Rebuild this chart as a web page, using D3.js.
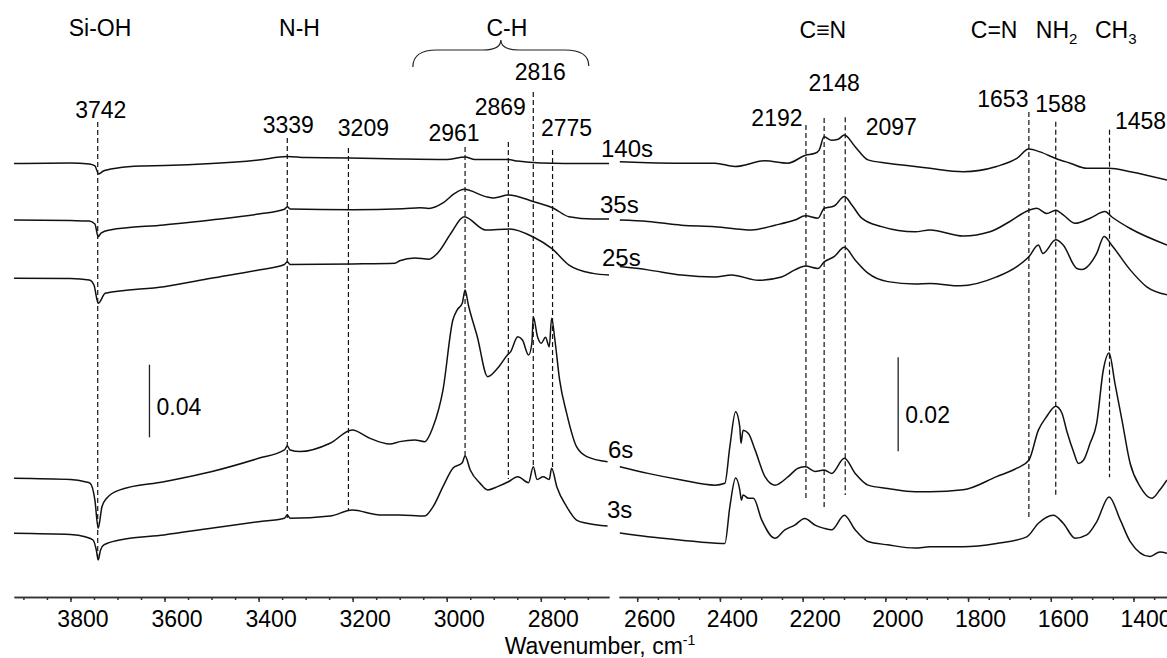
<!DOCTYPE html>
<meta charset="utf-8">
<html>
  <head>
    <style>
      body { margin: 0; background: #fff; }
      text { font-family: Arial, "Liberation Sans", sans-serif; fill: #000; }
      path.trace { fill: none; stroke: #111; stroke-width: 1.5px; stroke-linejoin: round; }
      line.peak { stroke: #111; stroke-width: 1.2px; stroke-dasharray: 5,3; }
      line.bar { stroke: #222; stroke-width: 1.3px; }
      .axis path, .axis line { stroke: #333; stroke-width: 1.5px; }
    </style>
    <script src="https://d3js.org/d3.v7.min.js"></script>
  </head>
  <body>
    <div id="chart"></div>
    <script type="text/javascript">
      // spectra, [wavenumber cm-1, absorbance incl. offset]
      var s140L = [[3920,0.2388],[3800,0.2391],[3760,0.2386],[3748,0.2375],[3740,0.2331],[3730,0.2347],[3700,0.2364],[3650,0.2375],[3600,0.2377],[3500,0.2388],[3400,0.2408],[3339,0.2427],[3300,0.2421],[3209,0.2419],[3100,0.2413],[3000,0.2410],[2961,0.2424],[2940,0.2410],[2869,0.2410],[2850,0.2402],[2800,0.2391],[2700,0.2388],[2655,0.2388]];
      var s35L = [[3920,0.2077],[3800,0.2074],[3760,0.2072],[3748,0.2055],[3741,0.1985],[3735,0.2005],[3716,0.2022],[3601,0.2050],[3501,0.2077],[3400,0.2110],[3345,0.2136],[3339,0.2150],[3333,0.2138],[3201,0.2134],[3093,0.2139],[3057,0.2145],[3038,0.2141],[3008,0.2171],[2983,0.2224],[2963,0.2246],[2917,0.2206],[2900,0.2199],[2869,0.2215],[2815,0.2178],[2773,0.2142],[2740,0.2095],[2689,0.2083],[2655,0.2083]];
      var s25L = [[3920,0.1756],[3800,0.1755],[3760,0.1747],[3750,0.1719],[3741,0.1618],[3726,0.1673],[3601,0.1710],[3501,0.1756],[3400,0.1802],[3345,0.1832],[3339,0.1847],[3333,0.1832],[3201,0.1835],[3110,0.1839],[3100,0.1853],[3068,0.1868],[3038,0.1861],[3017,0.1902],[2991,0.2004],[2963,0.2095],[2917,0.2022],[2866,0.2028],[2815,0.1982],[2777,0.1921],[2740,0.1829],[2689,0.1783],[2655,0.1774]];
      var s6L = [[3920,0.0654],[3800,0.0647],[3769,0.0635],[3758,0.0626],[3748,0.0534],[3741,0.0379],[3733,0.0497],[3723,0.0544],[3695,0.0590],[3601,0.0635],[3501,0.0690],[3400,0.0764],[3345,0.0810],[3339,0.0832],[3333,0.0810],[3312,0.0801],[3248,0.0847],[3201,0.0920],[3163,0.0874],[3121,0.0843],[3100,0.0856],[3068,0.0865],[3047,0.0856],[3029,0.0938],[3008,0.1140],[2987,0.1526],[2978,0.1581],[2967,0.1618],[2961,0.1691],[2954,0.1609],[2935,0.1434],[2913,0.1214],[2892,0.1260],[2871,0.1333],[2864,0.1352],[2849,0.1434],[2839,0.1416],[2826,0.1333],[2819,0.1398],[2816,0.1544],[2807,0.1434],[2799,0.1398],[2790,0.1431],[2782,0.1379],[2777,0.1536],[2770,0.1416],[2760,0.1196],[2745,0.1012],[2724,0.0828],[2702,0.0773],[2658,0.0745]];
      var s3L = [[3920,0.0351],[3800,0.0344],[3769,0.0332],[3752,0.0314],[3745,0.0259],[3741,0.0204],[3736,0.0259],[3729,0.0287],[3695,0.0314],[3601,0.0342],[3501,0.0379],[3400,0.0415],[3345,0.0434],[3339,0.0452],[3333,0.0434],[3248,0.0446],[3201,0.0479],[3142,0.0452],[3100,0.0452],[3047,0.0446],[3029,0.0498],[3008,0.0608],[2987,0.0709],[2967,0.0740],[2961,0.0777],[2950,0.0700],[2929,0.0626],[2913,0.0590],[2892,0.0608],[2869,0.0635],[2849,0.0663],[2826,0.0630],[2816,0.0718],[2808,0.0648],[2795,0.0663],[2782,0.0648],[2777,0.0709],[2766,0.0608],[2745,0.0498],[2724,0.0424],[2702,0.0406],[2658,0.0391]];

      var s140R = [[2642,0.0926],[2574,0.0924],[2493,0.0923],[2412,0.0923],[2364,0.0916],[2291,0.0928],[2236,0.0923],[2193,0.0940],[2170,0.0944],[2160,0.0951],[2148,0.0979],[2130,0.0972],[2114,0.0974],[2099,0.0983],[2073,0.0958],[2042,0.0930],[1994,0.0923],[1928,0.0916],[1892,0.0912],[1812,0.0905],[1731,0.0916],[1682,0.0933],[1653,0.0953],[1626,0.0947],[1588,0.0933],[1553,0.0923],[1513,0.0912],[1459,0.0912],[1408,0.0905],[1319,0.0887]];
      var s35R = [[2642,0.0802],[2574,0.0799],[2493,0.0791],[2412,0.0788],[2323,0.0781],[2267,0.0791],[2219,0.0802],[2193,0.0811],[2163,0.0806],[2148,0.0827],[2124,0.0832],[2099,0.0852],[2081,0.0834],[2057,0.0806],[2009,0.0788],[1928,0.0777],[1892,0.0781],[1812,0.0768],[1747,0.0777],[1699,0.0799],[1653,0.0823],[1634,0.0827],[1610,0.0816],[1588,0.0823],[1570,0.0813],[1541,0.0795],[1505,0.0806],[1469,0.0820],[1453,0.0809],[1408,0.0784],[1319,0.0749]];
      var s25R = [[2642,0.0703],[2574,0.0696],[2493,0.0685],[2412,0.0681],[2372,0.0685],[2307,0.0674],[2251,0.0681],[2219,0.0696],[2193,0.0704],[2163,0.0699],[2148,0.0713],[2124,0.0724],[2099,0.0744],[2073,0.0717],[2042,0.0689],[1994,0.0671],[1928,0.0666],[1892,0.0667],[1819,0.0662],[1731,0.0681],[1682,0.0703],[1653,0.0724],[1630,0.0749],[1619,0.0731],[1588,0.0760],[1570,0.0749],[1537,0.0699],[1525,0.0697],[1489,0.0731],[1471,0.0767],[1453,0.0749],[1408,0.0696],[1368,0.0660],[1319,0.0643]];
      var s6R = [[2642,0.0277],[2574,0.0263],[2493,0.0249],[2412,0.0238],[2388,0.0242],[2376,0.0320],[2362,0.0394],[2352,0.0362],[2349,0.0327],[2344,0.0355],[2331,0.0348],[2315,0.0313],[2291,0.0256],[2267,0.0238],[2235,0.0256],[2211,0.0274],[2193,0.0277],[2170,0.0267],[2148,0.0270],[2130,0.0263],[2099,0.0295],[2073,0.0263],[2042,0.0238],[1994,0.0231],[1928,0.0224],[1892,0.0224],[1812,0.0228],[1731,0.0256],[1682,0.0274],[1653,0.0291],[1630,0.0355],[1610,0.0384],[1588,0.0406],[1573,0.0391],[1561,0.0352],[1545,0.0309],[1533,0.0284],[1521,0.0291],[1505,0.0327],[1489,0.0370],[1473,0.0483],[1459,0.0519],[1445,0.0455],[1428,0.0377],[1408,0.0284],[1384,0.0235],[1356,0.0210],[1336,0.0228],[1319,0.0249]];
      var s3R = [[2642,0.0136],[2574,0.0128],[2493,0.0121],[2396,0.0114],[2388,0.0114],[2376,0.0192],[2362,0.0253],[2352,0.0228],[2348,0.0206],[2344,0.0217],[2331,0.0210],[2319,0.0210],[2299,0.0164],[2267,0.0125],[2243,0.0143],[2219,0.0153],[2195,0.0167],[2170,0.0153],[2148,0.0146],[2130,0.0143],[2099,0.0174],[2073,0.0143],[2042,0.0118],[1994,0.0111],[1928,0.0104],[1892,0.0107],[1812,0.0107],[1731,0.0114],[1658,0.0128],[1630,0.0157],[1594,0.0174],[1570,0.0157],[1541,0.0125],[1513,0.0132],[1489,0.0160],[1459,0.0213],[1432,0.0164],[1408,0.0118],[1360,0.0086],[1336,0.0096],[1319,0.0093]];

      var seriesNames = ["140s", "35s", "25s", "6s", "3s"];

      var ticksL = [3800, 3600, 3400, 3200, 3000, 2800],
          ticksR = [2600, 2400, 2200, 2000, 1800, 1600, 1400];

      // marked bands: wavenumber, dashed line top / bottom (absorbance)
      var peaksL = [3742, 3339, 3209, 2961, 2869, 2816, 2775],
          peakTopL = [0.2617, 0.2529, 0.2474, 0.2479, 0.2507, 0.2782, 0.2463],
          peakEndL = [0.0204, 0.0435, 0.0479, 0.0771, 0.0650, 0.0716, 0.0700];
      var peaksR = [2192, 2148, 2097, 1653, 1588, 1458],
          peakTopR = [0.1004, 0.1019, 0.1021, 0.1032, 0.1011, 0.0994],
          peakEndR = [0.0209, 0.0185, 0.0217, 0.0168, 0.0217, 0.0255];

      var groupsL = ["Si-OH", "N-H", "C-H"], groupWnL = [3737, 3313, 2872];
      var groupsR = [["C≡N", ""], ["C=N", ""], ["NH", "2"], ["CH", "3"]], groupWnR = [2151, 1737, 1586, 1443];

      var width = 1167, height = 658, axisY = 597;

      // label placement (pixels)
      var peakLabL = [{dx: 3, y: 118}, {dx: 1, y: 133}, {dx: 15, y: 136}, {dx: -11, y: 141}, {dx: -8, y: 115}, {dx: 7, y: 80}, {dx: 14, y: 136}],
          peakLabR = [{dx: -29, y: 126}, {dx: 10, y: 91}, {dx: 46, y: 135}, {dx: -26, y: 107}, {dx: 5, y: 112}, {dx: 31, y: 129}],
          seriesLab = [{x: 601, y: 157}, {x: 600, y: 213}, {x: 602, y: 266}, {x: 608, y: 458}, {x: 607, y: 518}];

      var xL = d3.scaleLinear().domain([3920, 2655]).range([14, 609]),
          xR = d3.scaleLinear().domain([2644, 1319]).range([619, 1167]),
          yL = d3.scaleLinear().domain([0, 0.3]).range([axisY, axisY - 0.3 * 1815]),
          yR = d3.scaleLinear().domain([0, 0.1]).range([axisY, axisY - 0.1 * 4700]);

      var svg = d3.select("#chart").append("svg")
          .attr("width", width)
          .attr("height", height);

      function drawPanel(x, y, spectra, ticks, peaks, tops, ends, labs) {
        var line = d3.line()
            .x(function(d) { return x(d[0]); })
            .y(function(d) { return y(d[1]); })
            .curve(d3.curveMonotoneX);

        svg.append("g").selectAll("path")
            .data(spectra)
            .enter().append("path")
              .attr("class", "trace")
              .attr("d", line);

        svg.append("g").selectAll("line")
            .data(peaks)
            .enter().append("line")
              .attr("class", "peak")
              .attr("x1", function(d) { return x(d); })
              .attr("x2", function(d) { return x(d); })
              .attr("y1", function(d, i) { return y(tops[i]); })
              .attr("y2", function(d, i) { return y(ends[i]); });

        svg.append("g").selectAll("text")
            .data(peaks)
            .enter().append("text")
              .attr("x", function(d, i) { return x(d) + labs[i].dx; })
              .attr("y", function(d, i) { return labs[i].y; })
              .style("text-anchor", "middle")
              .style("font-size", "23px")
              .text(function(d) { return d; });

        // minor ticks every 50
        var dom = x.domain(), minor = [];
        for (var v = Math.ceil(dom[1] / 50) * 50; v <= dom[0]; v += 50) minor.push(v);

        svg.append("g")
            .attr("class", "axis")
            .attr("transform", "translate(0," + axisY + ")")
            .call(d3.axisBottom(x).tickValues(minor).tickSize(3).tickSizeOuter(0).tickFormat(""));

        var ax = svg.append("g")
            .attr("class", "axis")
            .attr("transform", "translate(0," + axisY + ")")
            .call(d3.axisBottom(x).tickValues(ticks).tickSize(5).tickSizeOuter(0).tickFormat(d3.format("d")));
        ax.selectAll("text")
            .attr("y", 14)
            .attr("dx", 12)
            .style("font-size", "23px")
            .style("font-family", "Arial, 'Liberation Sans', sans-serif")
            .style("fill", "#000");
      }

      drawPanel(xL, yL, [s140L, s35L, s25L, s6L, s3L], ticksL, peaksL, peakTopL, peakEndL, peakLabL);
      drawPanel(xR, yR, [s140R, s35R, s25R, s6R, s3R], ticksR, peaksR, peakTopR, peakEndR, peakLabR);

      // time labels
      svg.append("g").selectAll("text")
          .data(seriesNames)
          .enter().append("text")
            .attr("x", function(d, i) { return seriesLab[i].x; })
            .attr("y", function(d, i) { return seriesLab[i].y; })
            .style("font-size", "24px")
            .text(function(d) { return d; });

      // group labels
      svg.append("g").selectAll("text")
          .data(groupsL)
          .enter().append("text")
            .attr("x", function(d, i) { return xL(groupWnL[i]); })
            .attr("y", 36)
            .style("text-anchor", "middle")
            .style("font-size", "23px")
            .text(function(d) { return d; });

      var gr = svg.append("g").selectAll("text")
          .data(groupsR)
          .enter().append("text")
            .attr("x", function(d, i) { return xR(groupWnR[i]); })
            .attr("y", 38)
            .style("text-anchor", "middle")
            .style("font-size", "23px");
      gr.append("tspan").text(function(d) { return d[0]; });
      gr.append("tspan")
          .attr("dy", 6)
          .style("font-size", "15px")
          .text(function(d) { return d[1]; });

      // brace over C-H
      var bx0 = xL(3072), bx1 = xL(2698), bm = xL(2885);
      svg.append("path")
          .attr("d", "M" + bx0 + ",67 Q" + bx0 + ",50 " + (bx0 + 24) + ",50 L" + (bm - 18) + ",50 Q" + bm + ",50 " + bm + ",40 Q" + bm + ",50 " + (bm + 18) + ",50 L" + (bx1 - 24) + ",50 Q" + bx1 + ",50 " + bx1 + ",66")
          .style("fill", "none")
          .style("stroke", "#222")
          .style("stroke-width", 1.2);

      // absorbance scale bars
      var bars = [{x: xL(3632), y0: yL(0.088), y1: yL(0.128), label: "0.04", ty: 415},
                  {x: xR(1969), y0: yR(0.031), y1: yR(0.051), label: "0.02", ty: 423}];
      svg.append("g").selectAll("line")
          .data(bars)
          .enter().append("line")
            .attr("class", "bar")
            .attr("x1", function(d) { return d.x; })
            .attr("x2", function(d) { return d.x; })
            .attr("y1", function(d) { return d.y0; })
            .attr("y2", function(d) { return d.y1; });
      svg.append("g").selectAll("text")
          .data(bars)
          .enter().append("text")
            .attr("x", function(d) { return d.x + 7; })
            .attr("y", function(d) { return d.ty; })
            .style("font-size", "23px")
            .text(function(d) { return d.label; });

      // axis title
      var title = svg.append("text")
          .attr("x", 600)
          .attr("y", 654)
          .style("text-anchor", "middle")
          .style("font-size", "23px");
      title.append("tspan").text("Wavenumber, cm");
      title.append("tspan")
          .attr("dy", -9)
          .style("font-size", "14px")
          .text("-1");
    </script>
  </body>
</html>
